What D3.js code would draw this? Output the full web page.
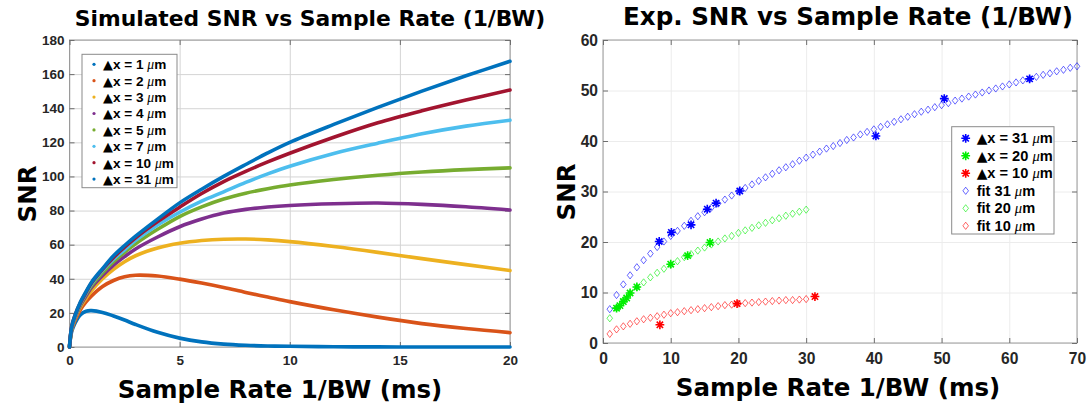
<!DOCTYPE html>
<html>
<head>
<meta charset="utf-8">
<script src="https://cdn.jsdelivr.net/npm/d3@7"></script>
<style>
  body { margin: 0; background: #fff; }
  svg { display: block; }
  .tick text { font-family: "Liberation Sans", Arial, sans-serif; font-weight: bold; fill: #262626; }
  .title, .axis-label { font-family: "DejaVu Sans", sans-serif; font-weight: bold; fill: #000; }
  .legend text { font-family: "Liberation Sans", Arial, sans-serif; font-weight: bold; fill: #000; }
  .legend .mu { font-family: "Liberation Serif", serif; font-style: italic; font-weight: normal; }
</style>
</head>
<body>
<svg id="chart" width="1089" height="407"></svg>
<script>
// ---- simulated SNR (left panel) ----
var simT   = [0, 0.1, 0.25, 0.5, 0.75, 1, 1.5, 2, 2.5, 3, 4, 5, 6, 7, 8, 9, 10, 12, 14, 16, 18, 20];
var sim1   = [0, 9, 14, 19, 21, 21.3, 20.3, 18.2, 15.8, 13.2, 8.6, 5.2, 3.0, 1.7, 1.0, 0.6, 0.4, 0.15, 0.05, 0, 0, 0];
var sim2   = [0, 10, 15.5, 22, 26.5, 30, 35.5, 39, 41.2, 42.1, 41.6, 39.8, 37.5, 34.9, 32, 29.3, 26.6, 21.8, 17.5, 13.7, 10.8, 8.4];
var sim3   = [0, 10.5, 16.5, 23.5, 28.5, 33, 40, 45.5, 50, 53.5, 58, 60.8, 62.4, 63.2, 63.3, 62.8, 61.8, 58.9, 55.5, 51.8, 48.3, 44.8];
var sim4   = [0, 11, 17, 24.5, 30, 35, 42, 48, 53, 57.5, 64.5, 70.5, 75, 78.5, 80.7, 82.1, 83, 84, 84.4, 83.6, 82.2, 80.3];
var sim5   = [0, 11, 17.5, 25, 31, 36, 43.5, 50, 55.5, 60.5, 69, 76.5, 82.2, 86.8, 90.2, 92.8, 95, 98.2, 100.7, 102.6, 104, 105];
var sim7   = [0, 11.5, 18, 25.5, 31.5, 37, 45, 51.5, 57, 62.5, 71.5, 79, 85.5, 91, 96.5, 101.5, 106, 113.5, 119.5, 125, 129.5, 133];
var sim10  = [0, 12, 18.5, 26, 32, 37.5, 45.5, 52.5, 58.5, 64, 73.5, 82, 90, 97, 103, 108.5, 113.6, 123, 131.5, 138.5, 144.8, 150.7];
var sim31  = [0, 12, 18.5, 26.5, 32.5, 38, 46, 53.5, 59.5, 65, 75, 84.5, 92.5, 100, 107, 113.8, 120, 130.5, 140.5, 150, 159, 167.5];
var simSeries = [sim1, sim2, sim3, sim4, sim5, sim7, sim10, sim31];
var simLabels = ['1', '2', '3', '4', '5', '7', '10', '31'];
var simColors = ['#0072BD', '#D95319', '#EDB120', '#7E2F8E', '#77AC30', '#4DBEEE', '#A2142F', '#0072BD'];
var simXTicks = [0, 5, 10, 15, 20];
var simYTicks = [0, 20, 40, 60, 80, 100, 120, 140, 160, 180];

// ---- experimental SNR (right panel) ----
var exp31X = [8.3, 10.1, 13.0, 15.4, 16.7, 20.2, 40.3, 50.4, 63.0];
var exp31Y = [20.1, 21.9, 23.4, 26.5, 27.7, 30.1, 41.0, 48.4, 52.3];
var exp20X = [2.0, 2.5, 3.0, 3.5, 4.0, 5.0, 10.0, 12.5, 15.8];
var exp20Y = [6.9, 7.4, 8.2, 8.9, 9.9, 11.1, 15.6, 17.3, 19.9];
var exp10X = [8.4, 19.8, 31.3];
var exp10Y = [3.6, 7.8, 9.2];
// fits are sampled at 1 ms steps starting at 1 ms
var fit31 = [6.7, 9.5, 11.6, 13.4, 15.0, 16.4, 17.7, 19.0, 20.1, 21.2,
             22.2, 23.2, 24.2, 25.1, 25.9, 26.8, 27.6, 28.4, 29.2, 30.0,
             30.7, 31.4, 32.1, 32.8, 33.5, 34.2, 34.8, 35.4, 36.1, 36.7,
             37.3, 37.9, 38.5, 39.0, 39.6, 40.2, 40.7, 41.3, 41.8, 42.3,
             42.8, 43.3, 43.8, 44.3, 44.8, 45.3, 45.8, 46.2, 46.7, 47.1,
             47.5, 48.0, 48.4, 48.8, 49.2, 49.6, 50.0, 50.4, 50.8, 51.2,
             51.6, 52.0, 52.3, 52.7, 53.1, 53.4, 53.8, 54.1, 54.5, 54.8];
var fit20 = [4.9, 6.9, 8.5, 9.8, 11.0, 12.0, 13.0, 13.9, 14.7, 15.5,
             16.2, 17.0, 17.6, 18.3, 18.9, 19.5, 20.1, 20.7, 21.2, 21.8,
             22.3, 22.8, 23.3, 23.8, 24.3, 24.7, 25.2, 25.6, 26.0, 26.4];
var fit10 = [1.8, 2.7, 3.3, 3.8, 4.3, 4.7, 5.0, 5.3, 5.6, 5.9,
             6.1, 6.3, 6.5, 6.7, 6.9, 7.1, 7.3, 7.5, 7.6, 7.8,
             7.9, 8.0, 8.1, 8.2, 8.3, 8.4, 8.5, 8.5, 8.6, 8.7];
var expLabels = ['31', '20', '10'];
var expColors = ['#0000ff', '#00ee00', '#ff0000'];
var expXTicks = [0, 10, 20, 30, 40, 50, 60, 70];
var expYTicks = [0, 10, 20, 30, 40, 50, 60];

var svg = d3.select('#chart');

var leftBox  = { left: 69.5, right: 510, top: 40, bottom: 347 };
var rightBox = { left: 603, right: 1077, top: 40, bottom: 343 };

function zip(xs, ys) {
  return xs.map(function(v, i) { return [v, ys[i]]; });
}

// grid + box + inward ticks, MATLAB style
function drawFrame(box, x, y, xTicks, yTicks, opt) {
  var g = svg.append('g');
  var w = box.right - box.left, h = box.bottom - box.top;

  var grid = function(sel) {
    sel.select('.domain').remove();
    sel.selectAll('line').attr('stroke', opt.grid).attr('stroke-width', 1);
    sel.selectAll('text').remove();
  };
  g.append('g')
    .attr('transform', 'translate(0,' + box.bottom + ')')
    .call(d3.axisBottom(x).tickValues(xTicks).tickSize(-h))
    .call(grid);
  g.append('g')
    .attr('transform', 'translate(' + box.left + ',0)')
    .call(d3.axisLeft(y).tickValues(yTicks).tickSize(-w))
    .call(grid);

  g.append('rect')
    .attr('x', box.left).attr('y', box.top)
    .attr('width', w).attr('height', h)
    .attr('fill', 'none').attr('stroke', '#9a9a9a').attr('stroke-width', 1);

  var style = function(sel) {
    sel.select('.domain').remove();
    sel.selectAll('line').attr('stroke', '#6e6e6e');
    sel.selectAll('text').attr('font-size', opt.fontSize);
  };
  g.append('g')
    .attr('transform', 'translate(0,' + box.bottom + ')')
    .call(d3.axisBottom(x).tickValues(xTicks).tickSizeInner(-5).tickSizeOuter(0).tickPadding(opt.xPad))
    .call(style);
  g.append('g')
    .attr('transform', 'translate(' + box.left + ',0)')
    .call(d3.axisLeft(y).tickValues(yTicks).tickSizeInner(-5).tickSizeOuter(0).tickPadding(opt.yPad))
    .call(style);
  g.append('g')
    .attr('transform', 'translate(0,' + box.top + ')')
    .call(d3.axisTop(x).tickValues(xTicks).tickSizeInner(-5).tickSizeOuter(0).tickFormat(''))
    .call(style);
  g.append('g')
    .attr('transform', 'translate(' + box.right + ',0)')
    .call(d3.axisRight(y).tickValues(yTicks).tickSizeInner(-5).tickSizeOuter(0).tickFormat(''))
    .call(style);
  return g;
}

function deltaLabel(text, pre, num, size) {
  text.append('tspan').attr('font-family', '"DejaVu Sans", sans-serif').attr('font-size', size * 0.95).text('\u25B2');
  text.append('tspan').text(pre + num + ' ');
  text.append('tspan').attr('class', 'mu').text('\u03BC');
  text.append('tspan').text('m');
}

// ================= left panel =================
var xL = d3.scaleLinear().domain([0, 20]).range([leftBox.left, leftBox.right]);
var yL = d3.scaleLinear().domain([0, 180]).range([leftBox.bottom, leftBox.top]);
drawFrame(leftBox, xL, yL, simXTicks, simYTicks, { grid: '#d4d4d4', fontSize: 13.5, xPad: 8, yPad: 5 });

var simLine = d3.line()
  .x(function(d) { return xL(d[0]); })
  .y(function(d) { return yL(d[1]); })
  .curve(d3.curveCatmullRom.alpha(0.5));

svg.append('g').selectAll('path.sim')
  .data(simSeries)
  .enter()
  .append('path')
  .classed('sim', true)
  .attr('d', function(s) { return simLine(zip(simT, s)); })
  .attr('fill', 'none')
  .attr('stroke', function(s, i) { return simColors[i]; })
  .attr('stroke-width', 3.6)
  .attr('stroke-linecap', 'round')
  .attr('stroke-linejoin', 'round');

var legL = svg.append('g').classed('legend', true);
legL.append('rect')
  .attr('x', 82).attr('y', 54.3).attr('width', 95).attr('height', 133.4)
  .attr('fill', '#fff').attr('stroke', '#8a8a8a').attr('stroke-width', 1);
simLabels.forEach(function(lab, i) {
  var cy = 64.3 + i * 16.4;
  legL.append('circle').attr('cx', 94).attr('cy', cy).attr('r', 1.6).attr('fill', simColors[i]);
  var t = legL.append('text').attr('x', 103).attr('y', cy + 4.8).attr('font-size', 13.6);
  deltaLabel(t, 'x = ', lab, 13.6);
});

svg.append('text').classed('title', true)
  .attr('x', 310).attr('y', 26).attr('text-anchor', 'middle').attr('font-size', 21.8)
  .text('Simulated SNR vs Sample Rate (1/BW)');
svg.append('text').classed('axis-label', true)
  .attr('x', 280).attr('y', 398).attr('text-anchor', 'middle').attr('font-size', 24.5)
  .text('Sample Rate 1/BW (ms)');
svg.append('text').classed('axis-label', true)
  .attr('transform', 'translate(36,194) rotate(-90)').attr('text-anchor', 'middle').attr('font-size', 24.5)
  .text('SNR');

// ================= right panel =================
var xR = d3.scaleLinear().domain([0, 70]).range([rightBox.left, rightBox.right]);
var yR = d3.scaleLinear().domain([0, 60]).range([rightBox.bottom, rightBox.top]);
drawFrame(rightBox, xR, yR, expXTicks, expYTicks, { grid: '#ececec', fontSize: 15.6, xPad: 10, yPad: 5 });

var diamond = 'M0,-3.6L2.8,0L0,3.6L-2.8,0Z';
var star = (function(s) {
  var a = s * 0.72;
  return 'M' + (-s) + ',0H' + s + 'M0,' + (-s) + 'V' + s +
    'M' + (-a) + ',' + (-a) + 'L' + a + ',' + a + 'M' + (-a) + ',' + a + 'L' + a + ',' + (-a);
})(4.4);

var fits = [fit31, fit20, fit10];
var exps = [zip(exp31X, exp31Y), zip(exp20X, exp20Y), zip(exp10X, exp10Y)];

fits.forEach(function(f, k) {
  svg.append('g').selectAll('path')
    .data(zip(d3.range(1, f.length + 1), f))
    .enter()
    .append('path')
    .attr('d', diamond)
    .attr('transform', function(d) { return 'translate(' + xR(d[0]) + ',' + yR(d[1]) + ')'; })
    .attr('fill', 'none')
    .attr('stroke', expColors[k])
    .attr('stroke-opacity', 0.6)
    .attr('stroke-width', 1);
});
exps.forEach(function(e, k) {
  svg.append('g').selectAll('path')
    .data(e)
    .enter()
    .append('path')
    .attr('d', star)
    .attr('transform', function(d) { return 'translate(' + xR(d[0]) + ',' + yR(d[1]) + ')'; })
    .attr('fill', 'none')
    .attr('stroke', expColors[k])
    .attr('stroke-width', 1.6);
});

var legR = svg.append('g').classed('legend', true);
legR.append('rect')
  .attr('x', 951.7).attr('y', 126.7).attr('width', 102.3).attr('height', 107.3)
  .attr('fill', '#fff').attr('stroke', '#8a8a8a').attr('stroke-width', 1);
expLabels.forEach(function(lab, i) {
  var cy = 138.3 + i * 17.5;
  legR.append('path').attr('d', star)
    .attr('transform', 'translate(965.7,' + cy + ')')
    .attr('fill', 'none').attr('stroke', expColors[i]).attr('stroke-width', 1.6);
  var t = legR.append('text').attr('x', 976.7).attr('y', cy + 5).attr('font-size', 14.6);
  deltaLabel(t, 'x = ', lab, 14.6);
});
expLabels.forEach(function(lab, i) {
  var cy = 138.3 + (i + 3) * 17.5;
  legR.append('path').attr('d', diamond)
    .attr('transform', 'translate(965.7,' + cy + ')')
    .attr('fill', 'none').attr('stroke', expColors[i]).attr('stroke-opacity', 0.6).attr('stroke-width', 1);
  var t = legR.append('text').attr('x', 976.7).attr('y', cy + 5).attr('font-size', 14.6);
  t.append('tspan').text('fit ' + lab + ' ');
  t.append('tspan').attr('class', 'mu').text('\u03BC');
  t.append('tspan').text('m');
});

svg.append('text').classed('title', true)
  .attr('x', 848).attr('y', 25).attr('text-anchor', 'middle').attr('font-size', 24.6)
  .text('Exp. SNR vs Sample Rate (1/BW)');
svg.append('text').classed('axis-label', true)
  .attr('x', 838).attr('y', 396).attr('text-anchor', 'middle').attr('font-size', 24.5)
  .text('Sample Rate 1/BW (ms)');
svg.append('text').classed('axis-label', true)
  .attr('transform', 'translate(575,192) rotate(-90)').attr('text-anchor', 'middle').attr('font-size', 24.5)
  .text('SNR');
</script>
</body>
</html>
